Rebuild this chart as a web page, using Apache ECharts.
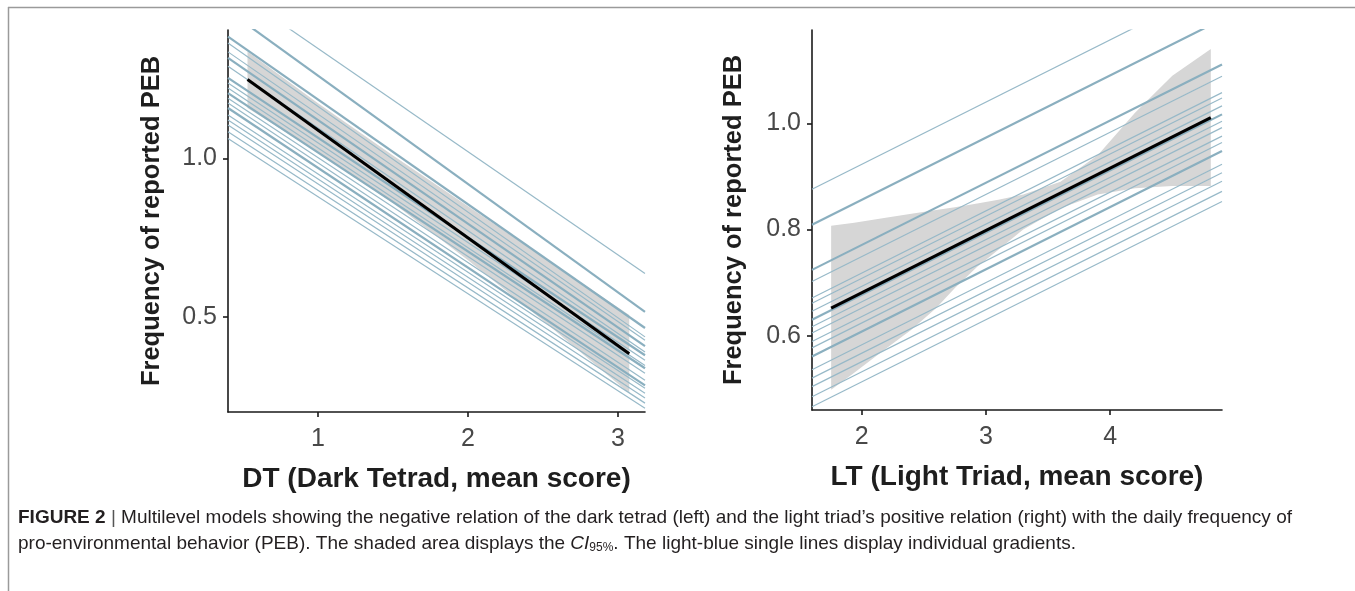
<!DOCTYPE html>
<html>
<head>
<meta charset="utf-8">
<script src="https://cdn.jsdelivr.net/npm/echarts@6/dist/echarts.min.js"></script>
<style>
  html, body { margin: 0; padding: 0; background: #fff; }
  #main { width: 1355px; height: 591px; }
</style>
</head>
<body>
<div id="main"></div>
<script>
// ---- data ----
// left panel: Dark Tetrad
var dtTicks = [1, 2, 3];
var dtPebTicks = [0.5, 1.0];
var dtFitX = [0.53, 3.075];
var dtFitY = [1.249, 0.384];
var dtBandX = [0.53, 1.0, 1.5, 2.0, 2.5, 3.075];
var dtBandLow = [1.159, 1.019, 0.859, 0.679, 0.489, 0.259];
var dtBandHigh = [1.337, 1.174, 1.009, 0.849, 0.689, 0.506];
// individual gradients, value at x = 0.4 and at x = 3.18
var dtLineX = [0.4, 3.18];
var dtLineStart = [1.542, 1.466, 1.384, 1.364, 1.336, 1.317, 1.291, 1.254, 1.238, 1.222,
                   1.206, 1.190, 1.175, 1.159, 1.137, 1.121, 1.105, 1.084, 1.063];
var dtLineEnd = [0.637, 0.516, 0.465, 0.437, 0.426, 0.408, 0.389, 0.379, 0.363, 0.347,
                 0.338, 0.322, 0.300, 0.284, 0.275, 0.259, 0.244, 0.228, 0.212];

// right panel: Light Triad
var ltTicks = [2, 3, 4];
var ltPebTicks = [0.6, 0.8, 1.0];
var ltFitX = [1.754, 4.81];
var ltFitY = [0.652, 1.011];
var ltBandX = [1.754, 1.94, 2.18, 2.4, 2.6, 2.75, 2.93, 3.1, 3.3, 3.6, 3.9, 4.2, 4.5, 4.81];
var ltBandLow = [0.498, 0.530, 0.573, 0.611, 0.652, 0.690, 0.730, 0.762, 0.800, 0.840, 0.866, 0.878, 0.882, 0.882];
var ltBandHigh = [0.807, 0.813, 0.822, 0.830, 0.837, 0.842, 0.849, 0.856, 0.866, 0.890, 0.940, 1.020, 1.090, 1.140];
// individual gradients, value at x = 1.6 and at x = 4.9
var ltLineX = [1.6, 4.9];
var ltLineStart = [0.876, 0.809, 0.724, 0.702, 0.671, 0.661, 0.646, 0.630, 0.617, 0.605,
                   0.589, 0.577, 0.561, 0.536, 0.520, 0.504, 0.485, 0.466];
var ltLineEnd = [1.263, 1.196, 1.111, 1.089, 1.058, 1.048, 1.033, 1.017, 1.004, 0.992,
                 0.976, 0.964, 0.948, 0.923, 0.907, 0.891, 0.872, 0.853];

// ---- styling ----
var thickDt = [1, 2, 5, 7, 10, 13];
var thickLt = [1, 2, 7, 12];
var BLUE_THIN = '#97b9c8';
var BLUE_THICK = '#8aafbf';
var BAND = '#d6d6d6';
var FONT = '"Liberation Sans", Arial, sans-serif';
var CAPTION_FONT = '"Liberation Sans Narrow", "Liberation Sans", Arial, sans-serif';

var chart = echarts.init(document.getElementById('main'));

function xAxisOf(idx, min, max, ticks, name) {
    return {
        type: 'value', gridIndex: idx, min: min, max: max,
        name: name, nameLocation: 'middle', nameGap: 53,
        nameTextStyle: { fontFamily: FONT, fontSize: 28, fontWeight: 'bold', color: '#1e1e1e' },
        axisLine: { show: true, onZero: false, lineStyle: { color: '#1a1a1a', width: 1.6 } },
        axisTick: { show: true, length: 5, customValues: ticks, lineStyle: { color: '#1a1a1a', width: 1.6 } },
        axisLabel: { customValues: ticks, margin: 15, fontFamily: FONT, fontSize: 25, color: '#484848' },
        splitLine: { show: false }
    };
}
function yAxisOf(idx, min, max, ticks, gap) {
    return {
        type: 'value', gridIndex: idx, min: min, max: max,
        name: 'Frequency of reported PEB', nameLocation: 'middle', nameGap: gap,
        nameTextStyle: { fontFamily: FONT, fontSize: 25.5, fontWeight: 'bold', color: '#1e1e1e' },
        axisLine: { show: true, onZero: false, lineStyle: { color: '#1a1a1a', width: 1.6 } },
        axisTick: { show: true, length: 5, customValues: ticks, lineStyle: { color: '#1a1a1a', width: 1.6 } },
        axisLabel: {
            customValues: ticks, margin: 11, fontFamily: FONT, fontSize: 25, color: '#484848',
            formatter: function (v) { return v.toFixed(1); }
        },
        splitLine: { show: false }
    };
}

function bandSeries(idx, xs, lo, hi) {
    return {
        type: 'custom', xAxisIndex: idx, yAxisIndex: idx, z: 1, silent: true,
        data: [0],
        renderItem: function (params, api) {
            var pts = [];
            for (var i = 0; i < xs.length; i++) pts.push(api.coord([xs[i], hi[i]]));
            for (var j = xs.length - 1; j >= 0; j--) pts.push(api.coord([xs[j], lo[j]]));
            return { type: 'polygon', shape: { points: pts }, style: { fill: BAND } };
        }
    };
}

function gradientSeries(idx, xs, starts, ends, thick) {
    return starts.map(function (s, i) {
        var isThick = thick.indexOf(i) >= 0;
        return {
            type: 'line', xAxisIndex: idx, yAxisIndex: idx, z: 2, silent: true,
            symbol: 'none', clip: true,
            data: [[xs[0], s], [xs[1], ends[i]]],
            lineStyle: { color: isThick ? BLUE_THICK : BLUE_THIN, width: isThick ? 2.2 : 1.2 }
        };
    });
}

function fitSeries(idx, xs, ys) {
    return {
        type: 'line', xAxisIndex: idx, yAxisIndex: idx, z: 3, silent: true,
        symbol: 'none', data: xs.map(function (x, i) { return [x, ys[i]]; }),
        lineStyle: { color: '#000', width: 3 }
    };
}

var series = [bandSeries(0, dtBandX, dtBandLow, dtBandHigh)]
    .concat(gradientSeries(0, dtLineX, dtLineStart, dtLineEnd, thickDt))
    .concat([fitSeries(0, dtFitX, dtFitY), bandSeries(1, ltBandX, ltBandLow, ltBandHigh)])
    .concat(gradientSeries(1, ltLineX, ltLineStart, ltLineEnd, thickLt))
    .concat([fitSeries(1, ltFitX, ltFitY)]);

chart.setOption({
    backgroundColor: '#fff',
    animation: false,
    grid: [
        { left: 228, top: 30, width: 417, height: 382 },
        { left: 812, top: 30, width: 410, height: 380 }
    ],
    xAxis: [
        xAxisOf(0, 0.4, 3.18, dtTicks, 'DT (Dark Tetrad, mean score)'),
        xAxisOf(1, 1.6, 4.9, ltTicks, 'LT (Light Triad, mean score)')
    ],
    yAxis: [
        yAxisOf(0, 0.2, 1.405, dtPebTicks, 63),
        yAxisOf(1, 0.46, 1.176, ltPebTicks, 65)
    ],
    series: series,
    graphic: [
        { type: 'line', silent: true, shape: { x1: 8, y1: 7.5, x2: 1355, y2: 7.5 },
          style: { stroke: '#9a9a9a', lineWidth: 1.5 } },
        { type: 'line', silent: true, shape: { x1: 8.5, y1: 7, x2: 8.5, y2: 591 },
          style: { stroke: '#9a9a9a', lineWidth: 1.5 } },
        { type: 'text', left: 18, top: 508, silent: true,
          style: {
              text: '{b|FIGURE 2} {s||} Multilevel models showing the negative relation of the dark tetrad (left) and the light triad\u2019s positive relation (right) with the daily frequency of',
              fontFamily: CAPTION_FONT, fontSize: 19, fill: '#231f20',
              rich: {
                  b: { fontWeight: 'bold', fontSize: 19, fontFamily: CAPTION_FONT },
                  s: { fontSize: 19, fill: '#555', fontFamily: CAPTION_FONT }
              }
          } },
        { type: 'text', left: 18, top: 534, silent: true,
          style: {
              text: 'pro-environmental behavior (PEB). The shaded area displays the {i|CI}{sub|95%}. The light-blue single lines display individual gradients.',
              fontFamily: CAPTION_FONT, fontSize: 19, fill: '#231f20',
              rich: {
                  i: { fontStyle: 'italic', fontSize: 19, fontFamily: CAPTION_FONT },
                  sub: { fontSize: 12, padding: [9, 0, 0, 0], fontFamily: CAPTION_FONT }
              }
          } }
    ]
});
</script>
</body>
</html>
